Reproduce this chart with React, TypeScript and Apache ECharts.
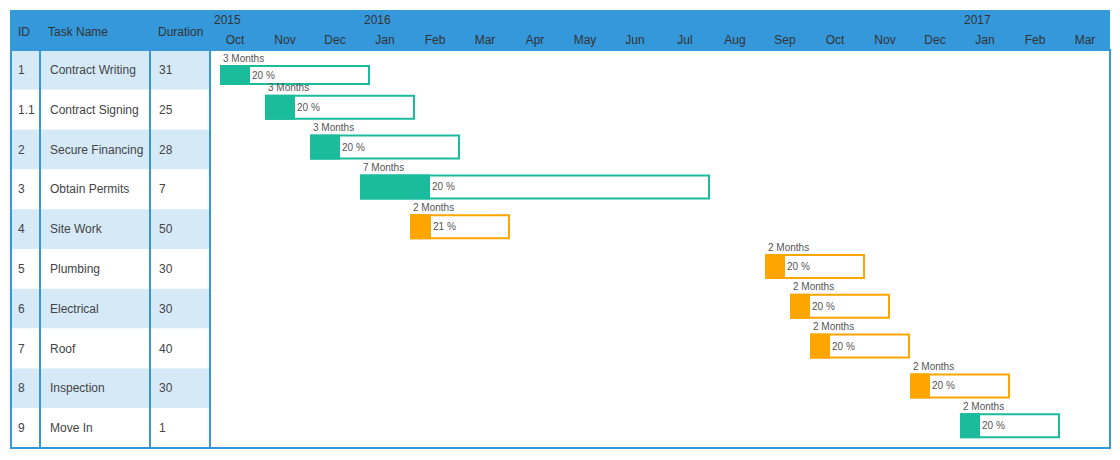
import React, { useEffect, useRef } from 'react';
import * as echarts from 'echarts';

// ---- data ----
const columnHeaders = ['ID', 'Task Name', 'Duration'];
const taskIds = ['1', '1.1', '2', '3', '4', '5', '6', '7', '8', '9'];
const taskNames = ['Contract Writing', 'Contract Signing', 'Secure Financing', 'Obtain Permits', 'Site Work', 'Plumbing', 'Electrical', 'Roof', 'Inspection', 'Move In'];
const durations = [31, 25, 28, 7, 50, 30, 30, 40, 30, 1];
const monthLabels = ['Oct', 'Nov', 'Dec', 'Jan', 'Feb', 'Mar', 'Apr', 'May', 'Jun', 'Jul', 'Aug', 'Sep', 'Oct', 'Nov', 'Dec', 'Jan', 'Feb', 'Mar'];
const yearLabels = ['2015', '2016', '2017'];
const yearStartMonth = [0, 3, 15]; // month index (from Oct 2015) where each year label starts
// bar start, in months counted from 1 Oct 2015
const barStarts = [0.2, 1.1, 2, 3, 4, 11.1, 11.6, 12, 14, 15];
const barMonths = [3, 3, 3, 7, 2, 2, 2, 2, 2, 2];
const progress = [20, 20, 20, 20, 21, 20, 20, 20, 20, 20];
const barGroup = [0, 0, 0, 0, 1, 1, 1, 1, 1, 0];

// ---- style ----
const palette = ['#1abc9c', '#ffa500'];
const headerBlue = '#3498db';
const rowShade = '#d6e9f7';
const FONT = '"Liberation Sans", Arial, Helvetica, sans-serif';

export default function App() {
  const ref = useRef<HTMLDivElement>(null);

  useEffect(() => {
    if (!ref.current) return;
    const chart = echarts.init(ref.current, undefined, { renderer: 'svg' });

    const top = 50;
    const height = 398;
    const tableCols = [
      { left: 11, width: 29, margin: 7, values: taskIds },
      { left: 40, width: 110, margin: 10, values: taskNames },
      { left: 150, width: 60, margin: 9, values: durations },
    ];

    const gridBase = {
      top,
      height,
      show: true,
      borderColor: headerBlue,
      borderWidth: 2,
      backgroundColor: 'transparent',
      z: 10,
      outerBoundsMode: 'none',
      containLabel: false,
    };

    const grids: any[] = [
      { ...gridBase, left: 210, width: 900 },
      ...tableCols.map((c) => ({ ...gridBase, left: c.left, width: c.width })),
      { left: 210, width: 900, top, height, show: false, outerBoundsMode: 'none', containLabel: false },
    ];

    const xAxes: any[] = [
      {
        type: 'value',
        gridIndex: 0,
        min: 0,
        max: 18,
        interval: 1,
        position: 'top',
        axisLine: { show: false },
        axisTick: { show: false },
        splitLine: { show: false },
        axisLabel: {
          margin: 24,
          align: 'left',
          padding: [0, 0, 0, 4],
          color: '#333',
          fontSize: 12,
          fontFamily: FONT,
          formatter: (v: number) => {
            const i = yearStartMonth.indexOf(Math.round(v));
            return i >= 0 ? yearLabels[i] : '';
          },
        },
      },
      ...tableCols.map((_, i) => ({ type: 'value', gridIndex: i + 1, min: 0, max: 1, show: false })),
      {
        type: 'category',
        gridIndex: 4,
        data: monthLabels.map((_, i) => String(i)),
        position: 'top',
        axisLine: { show: false },
        axisTick: { show: false },
        splitLine: { show: false },
        axisLabel: {
          interval: 0,
          margin: 4,
          color: '#333',
          fontSize: 12,
          fontFamily: FONT,
          formatter: (_v: string, i: number) => monthLabels[i],
        },
      },
    ];

    const yAxes: any[] = [
      { type: 'category', gridIndex: 0, data: taskIds, inverse: true, show: false },
      ...tableCols.map((c, i) => ({
        type: 'category',
        gridIndex: i + 1,
        data: taskIds,
        inverse: true,
        axisLine: { show: false },
        axisTick: { show: false },
        splitLine: { show: false },
        splitArea: { show: true, interval: 0, areaStyle: { color: [rowShade, '#ffffff'] } },
        axisLabel: {
          inside: true,
          interval: 0,
          margin: c.margin,
          padding: [3, 0, 0, 0],
          color: '#444',
          fontSize: 12,
          fontFamily: FONT,
          formatter: (_v: string, idx: number) => String(c.values[idx]),
        },
      })),
      { type: 'value', gridIndex: 4, show: false },
    ];

    const barData = taskIds.map((_, i) => [
      barStarts[i],
      barStarts[i] + barMonths[i],
      i,
      progress[i],
      barMonths[i],
    ]);

    const option: any = {
      animation: false,
      textStyle: { fontFamily: FONT },
      grid: grids,
      xAxis: xAxes,
      yAxis: yAxes,
      graphic: [
        {
          type: 'rect',
          z: -10,
          silent: true,
          shape: { x: 10, y: 10, width: 1100, height: 40 },
          style: { fill: headerBlue },
        },
        ...columnHeaders.map((t, i) => ({
          type: 'text',
          z: 5,
          x: [18, 48, 158][i],
          y: 32,
          style: { text: t, fill: '#333', fontSize: 12, fontFamily: FONT, verticalAlign: 'middle', align: 'left' },
        })),
      ],
      series: [
        {
          type: 'custom',
          xAxisIndex: 0,
          yAxisIndex: 0,
          clip: false,
          encode: { x: [0, 1], y: 2 },
          data: barData,
          renderItem: (params: any, api: any) => {
            const row = api.value(2);
            const s = api.coord([api.value(0), row]);
            const e = api.coord([api.value(1), row]);
            const band = api.size([0, 1])[1];
            const rowTop = s[1] - band / 2;
            const headerBottom = params.coordSys.y;
            const bt = Math.max(rowTop + 5, headerBottom + 15);
            const h = Math.min(25, rowTop + 35 - bt);
            const w = e[0] - s[0];
            const p = api.value(3);
            const pw = (w * p) / 100;
            const color = palette[barGroup[params.dataIndex]];
            return {
              type: 'group',
              children: [
                {
                  type: 'rect',
                  shape: { x: s[0] + 1, y: bt + 1, width: w - 2, height: h - 2 },
                  style: { fill: '#ffffff', stroke: color, lineWidth: 2 },
                },
                {
                  type: 'rect',
                  shape: { x: s[0], y: bt, width: pw, height: h },
                  style: { fill: color },
                },
                {
                  type: 'text',
                  x: s[0] + pw + 2,
                  y: bt + h / 2,
                  style: { text: `${p} %`, fill: '#555', fontSize: 10, fontFamily: FONT, verticalAlign: 'middle', align: 'left' },
                },
                {
                  type: 'text',
                  x: s[0] + 3,
                  y: bt - 7,
                  style: { text: `${api.value(4)} Months`, fill: '#555', fontSize: 10, fontFamily: FONT, verticalAlign: 'middle', align: 'left' },
                },
              ],
            };
          },
        },
      ],
    };

    chart.setOption(option);
    return () => chart.dispose();
  }, []);

  return <div ref={ref} style={{ position: 'absolute', left: 0, top: 0, width: 1120, height: 460 }} />;
}
